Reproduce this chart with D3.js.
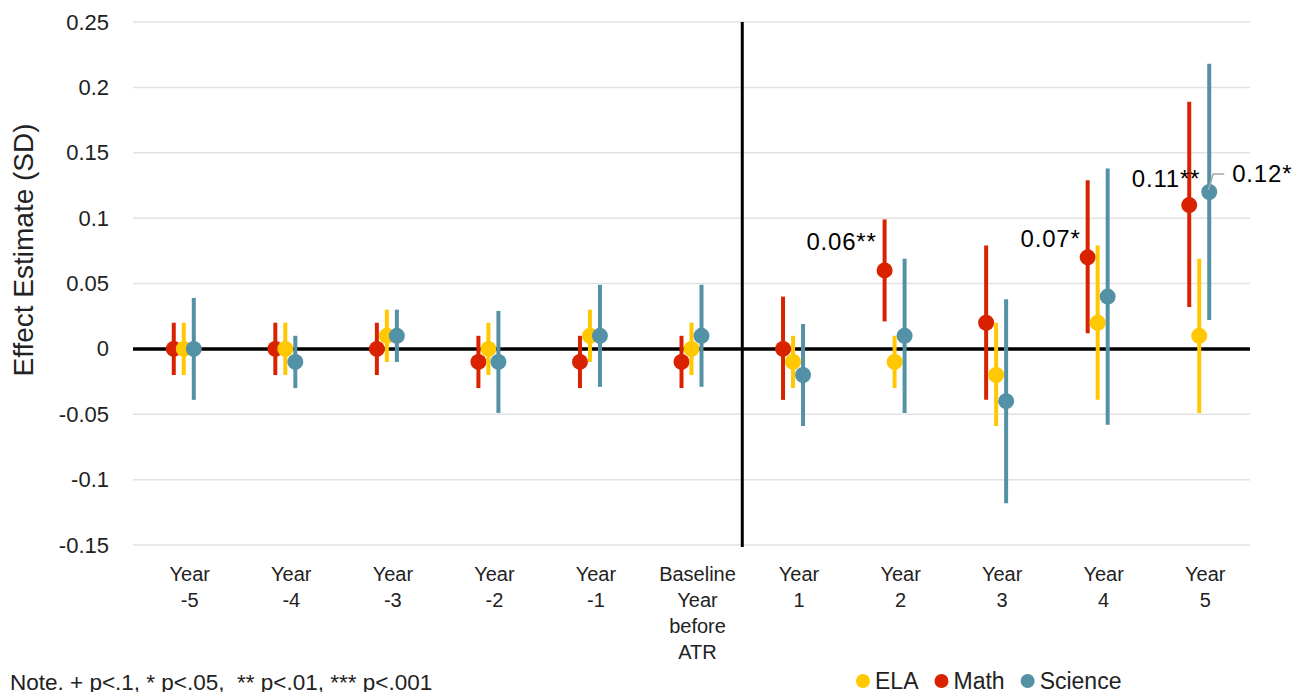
<!DOCTYPE html>
<html>
<head>
<meta charset="utf-8">
<script src="https://cdn.jsdelivr.net/npm/d3@7/dist/d3.min.js"></script>
<style>
body{margin:0;background:#fff;}
text{font-family:"Liberation Sans",Arial,sans-serif;}
</style>
</head>
<body>
<svg id="chart" width="1304" height="692"></svg>
<script>
// categories (each label split into lines)
var categories = ["Year -5","Year -4","Year -3","Year -2","Year -1","Baseline","Year 1","Year 2","Year 3","Year 4","Year 5"];
var categoryLines = [["Year","-5"],["Year","-4"],["Year","-3"],["Year","-2"],["Year","-1"],["Baseline","Year","before","ATR"],["Year","1"],["Year","2"],["Year","3"],["Year","4"],["Year","5"]];

// estimates and confidence bounds
var mathEst  = [0, 0, 0, -0.01, -0.01, -0.01, 0, 0.06, 0.02, 0.07, 0.11];
var mathLow  = [-0.02, -0.02, -0.02, -0.03, -0.03, -0.03, -0.039, 0.021, -0.039, 0.012, 0.032];
var mathHigh = [0.02, 0.02, 0.02, 0.01, 0.01, 0.01, 0.04, 0.099, 0.079, 0.129, 0.189];

var elaEst  = [0, 0, 0.01, 0, 0.01, 0, -0.01, -0.01, -0.02, 0.02, 0.01];
var elaLow  = [-0.02, -0.02, -0.01, -0.02, -0.01, -0.02, -0.03, -0.03, -0.059, -0.039, -0.049];
var elaHigh = [0.02, 0.02, 0.03, 0.02, 0.03, 0.02, 0.01, 0.01, 0.02, 0.079, 0.069];

var sciEst  = [0, -0.01, 0.01, -0.01, 0.01, 0.01, -0.02, 0.01, -0.04, 0.04, 0.12];
var sciLow  = [-0.039, -0.03, -0.01, -0.049, -0.029, -0.029, -0.059, -0.049, -0.118, -0.058, 0.022];
var sciHigh = [0.039, 0.01, 0.03, 0.029, 0.049, 0.049, 0.019, 0.069, 0.038, 0.138, 0.218];

var yTicks = [0.25, 0.2, 0.15, 0.1, 0.05, 0, -0.05, -0.1, -0.15];

// significance labels: [series, category index, text]
var annotations = [["Math",7,"0.06**"],["Math",9,"0.07*"],["Math",10,"0.11**"],["Science",10,"0.12*"]];

var series = [
	{name:"Math",    color:"#D92300", est:mathEst, low:mathLow, high:mathHigh, off:-10},
	{name:"ELA",     color:"#FFC800", est:elaEst,  low:elaLow,  high:elaHigh,  off:0},
	{name:"Science", color:"#5392A6", est:sciEst,  low:sciLow,  high:sciHigh,  off:10}
];
var legendOrder = ["ELA","Math","Science"];

var svg = d3.select("#chart");
var plotLeft = 133, plotRight = 1250, plotTop = 22, plotBottom = 545;

var x = d3.scaleBand().domain(categories).range([plotLeft,plotRight]);
var y = d3.scaleLinear().domain([-0.15,0.25]).range([plotBottom,plotTop]);

// gridlines
svg.append("g").selectAll("line").data(yTicks).enter().append("line")
	.attr("x1",plotLeft).attr("x2",plotRight)
	.attr("y1",function(d){return y(d);}).attr("y2",function(d){return y(d);})
	.attr("stroke","#e2e2e2").attr("stroke-width",1.5);

// y axis labels
var yAxis = d3.axisLeft(y).tickValues(yTicks).tickSize(0).tickPadding(0)
	.tickFormat(function(d){return String(+d.toFixed(2));});
var ya = svg.append("g").attr("transform","translate(109,0)").call(yAxis);
ya.select(".domain").remove();
ya.selectAll("text").attr("font-size",22).attr("fill","#222")
	.style("font-family","'Liberation Sans',Arial,sans-serif");

svg.append("text").attr("transform","translate(33,250) rotate(-90)")
	.attr("text-anchor","middle").attr("font-size",28).attr("fill","#222")
	.text("Effect Estimate (SD)");

// zero line
svg.append("line").attr("x1",plotLeft).attr("x2",plotRight).attr("y1",y(0)).attr("y2",y(0))
	.attr("stroke","#000").attr("stroke-width",3.5);

// divider between baseline and year 1
var divX = (x("Baseline")+x.bandwidth()/2 + x("Year 1")+x.bandwidth()/2)/2;
svg.append("line").attr("x1",divX).attr("x2",divX).attr("y1",plotTop).attr("y2",plotBottom+2)
	.attr("stroke","#000").attr("stroke-width",3);

// x labels
var xl = svg.append("g");
categories.forEach(function(c,i){
	var cxl = x(c)+x.bandwidth()/2+6;
	var t = xl.append("text").attr("text-anchor","middle").attr("font-size",20).attr("fill","#222")
		.attr("x",cxl).attr("y",581);
	categoryLines[i].forEach(function(line,k){
		t.append("tspan").attr("x",cxl).attr("dy",k==0?0:26).text(line);
	});
});

function cx(s,i){ return x(categories[i])+x.bandwidth()/2+s.off; }

// error bars and points
series.forEach(function(s){
	var g = svg.append("g");
	g.selectAll("line").data(s.est).enter().append("line")
		.attr("x1",function(d,i){return cx(s,i);}).attr("x2",function(d,i){return cx(s,i);})
		.attr("y1",function(d,i){return y(s.low[i]);}).attr("y2",function(d,i){return y(s.high[i]);})
		.attr("stroke",s.color).attr("stroke-width",4);
	g.selectAll("circle").data(s.est).enter().append("circle")
		.attr("cx",function(d,i){return cx(s,i);}).attr("cy",function(d){return y(d);})
		.attr("r",8).attr("fill",s.color);
});

// annotations, offsets from the marker (label anchor end, except the leader-line one)
var labelShift = [[-8,-20],[-7,-10],[11,-18],[23,-10]];
annotations.forEach(function(a,n){
	var s = series.filter(function(d){return d.name==a[0];})[0];
	var px = cx(s,a[1]), py = y(s.est[a[1]]);
	var t = svg.append("text").attr("x",px+labelShift[n][0]).attr("y",py+labelShift[n][1])
		.attr("font-size",24).attr("letter-spacing",0.8).attr("fill","#000").text(a[2]);
	if(a[0]=="Science")
	{
		svg.append("path").attr("d","M"+(px-1)+","+(py-2)+" L"+(px+4)+","+(py-18)+" L"+(px+15)+","+(py-18))
			.attr("fill","none").attr("stroke","#a6a6a6").attr("stroke-width",1.5);
	}
	else t.attr("text-anchor","end");
});

// note
svg.append("text").attr("x",10).attr("y",690).attr("font-size",22.5).attr("fill","#222")
	.style("white-space","pre")
	.text("Note. + p<.1, * p<.05,  ** p<.01, *** p<.001");

// legend
var lg = svg.append("g");
var lx = 863;
legendOrder.forEach(function(n){
	var s = series.filter(function(d){return d.name==n;})[0];
	lg.append("circle").attr("cx",lx).attr("cy",681).attr("r",7).attr("fill",s.color);
	var t = lg.append("text").attr("x",lx+12).attr("y",689).attr("font-size",23).attr("fill","#222").text(n);
	lx += 12 + t.node().getComputedTextLength() + 23;
});
</script>
</body>
</html>
